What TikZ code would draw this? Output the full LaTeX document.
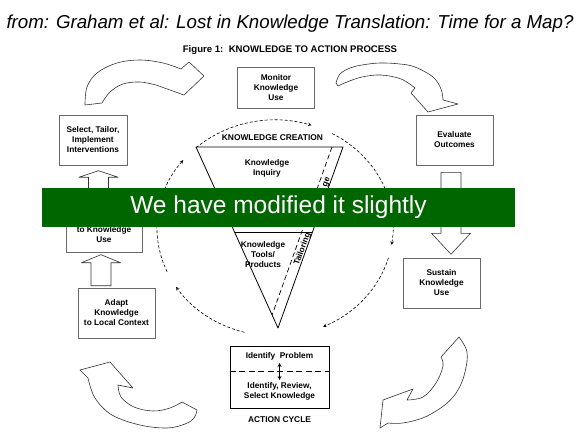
\documentclass[tikz,border=0pt]{standalone}
\usepackage{fontspec}
\setmainfont{Liberation Sans}
\usepackage{tikz}
\usetikzlibrary{arrows,positioning,calc}
\definecolor{kagreen}{RGB}{0,102,0}
\definecolor{kagray}{RGB}{105,105,105}
\tikzstyle{stepbox} = [rectangle, minimum width=77pt, minimum height=50pt, align=center, inner sep=0pt, draw=kagray, line width=0.6pt, fill=white, font=\bfseries\fontsize{8.3}{10}\selectfont]
\tikzstyle{actbox} = [rectangle, minimum width=99pt, minimum height=62pt, draw=black, line width=0.9pt, fill=white]
\tikzstyle{boxtext} = [align=center, inner sep=0pt, font=\bfseries\fontsize{8.3}{10}\selectfont]
\tikzstyle{lbl} = [inner sep=0pt, font=\bfseries\fontsize{8.4}{10}\selectfont]
\tikzstyle{funnel} = [draw=black, line width=0.8pt, line join=round]
\tikzstyle{tailorline} = [draw=black, line width=0.7pt, dash pattern=on 5pt off 3pt]
\tikzstyle{tailortext} = [inner sep=0pt, rotate=70, font=\bfseries\fontsize{8.3}{10}\selectfont]
\tikzstyle{cyclearc} = [line width=0.6pt, dash pattern=on 3pt off 2pt, ->, >=stealth]
\tikzstyle{blockline} = [draw=black!80, line width=0.6pt, fill=white, line join=round]
\tikzstyle{bentarrow} = [draw=black!80, line width=0.6pt, fill=white, line join=round]
\tikzstyle{banner} = [rectangle, fill=kagreen, text=white, minimum width=473pt, minimum height=39pt, inner sep=0pt, font=\fontsize{24.5}{28}\selectfont]
\tikzset{pics/hollowup/.style 2 args={code={
  \draw[blockline] (-10,0) -- (-10,{-#1+#2}) -- (-19.5,{-#1+#2}) -- (0,-#1)
    -- (19.5,{-#1+#2}) -- (10,{-#1+#2}) -- (10,0) -- cycle;}}}

\begin{document}
\begin{tikzpicture}[x=1pt,y=-1pt]
\useasboundingbox (0,0) rectangle (580,433);

% Heading
\node[font=\itshape\fontsize{18.7}{22}\selectfont] (title) at (290,24) {from: Graham et al: Lost in Knowledge Translation: Time for a Map?};
\node[lbl, font=\bfseries\fontsize{9.6}{11}\selectfont] (figure) at (290,50) {Figure 1:\ \ KNOWLEDGE TO ACTION PROCESS};

% Dashed cycle round the funnel
\coordinate (C) at (275,228);
\draw[cyclearc] ($(C)+(228:118 and 108)$) arc[start angle=228, end angle=288, x radius=118, y radius=108];
\draw[cyclearc] ($(C)+(299:118 and 108)$) arc[start angle=299, end angle=369, x radius=118, y radius=108];
\draw[cyclearc] ($(C)+(16:118 and 108)$) arc[start angle=16, end angle=66, x radius=118, y radius=108];
\draw[cyclearc] ($(C)+(105:118 and 108)$) arc[start angle=105, end angle=147, x radius=118, y radius=108];
\draw[cyclearc] ($(C)+(156:118 and 108)$) arc[start angle=156, end angle=219, x radius=118, y radius=108];

% Knowledge creation funnel
\coordinate (fl) at (196,147);
\coordinate (fr) at (343,147);
\coordinate (ft) at (278,328);
\draw[funnel, fill=white] (fl) -- (fr) -- (ft) -- cycle;
\draw[funnel] ($(fl)!0.47!(ft)$) -- ($(fr)!0.47!(ft)$);
\draw[tailorline] ($(fl)!0.925!(fr)$) -- ($(fl)!0.928!(ft)$);
\node[lbl, above=6pt] (creation) at ($(fl)!0.52!(fr)$) {KNOWLEDGE CREATION};
\node[boxtext] (inquiry) at (267,168) {Knowledge\\Inquiry};
\node[boxtext] (tools) at (263,255) {Knowledge\\Tools/\\Products};
\node[tailortext] (tailoring) at (302.5,249) {Tailoring};
\node[tailortext] (tailorend) at (327,182) {ge};

% Action cycle
\node[stepbox, minimum height=41pt] (monitor) at (276,87.5) {Monitor\\Knowledge\\Use};
\node[stepbox] (evaluate) at (454.5,140) {Evaluate\\Outcomes};
\node[stepbox, minimum width=68pt] (select) at (93,140) {Select, Tailor,\\Implement\\Interventions};
\node[stepbox, minimum width=76pt] (assess) at (104,227) {};
\node[boxtext] (assesstext) at ($(assess.south)+(0,-18)$) {to Knowledge\\Use};
\node[stepbox] (adapt) at (116.5,313) {Adapt\\Knowledge\\to Local Context};
\node[stepbox] (sustain) at (441.5,283) {Sustain\\Knowledge\\Use};

\node[actbox] (identify) at (279.5,377) {};
\node[boxtext] (problem) at ($(identify.north)+(0,11)$) {Identify\ \ Problem};
\node[boxtext] (review) at ($(identify.south)+(0,-17.5)$) {Identify, Review,\\Select Knowledge};
\coordinate (split) at ($(identify.center)+(0,-6)$);
\draw[line width=0.9pt, dash pattern=on 6pt off 3.5pt] (split -| identify.west) -- (split -| identify.east);
\draw[<->, >=stealth, line width=0.8pt] ($(identify.center)+(0,-14)$) -- ($(identify.center)+(0,3)$);
\node[lbl, below=8pt of identify] (actioncycle) {ACTION CYCLE};

% Straight block arrows
\pic at ($(adapt.north)+(-15.5,-2)$) {hollowup={31}{8}};
\pic at ($(assess.north)+(-5.5,0)$) {hollowup={31}{6.5}};
\pic[rotate=180] at ($(evaluate.south)+(-3.5,7)$) {hollowup={82}{21}};

% Curved block arrows
\draw[bentarrow] plot[smooth, tension=0.6] coordinates {(85,105) (87,87) (97,73) (117,63) (140,60) (163,63) (181,69)}
  -- (189,62) -- (204,76) -- (184,95)
  -- plot[smooth, tension=0.6] coordinates {(156,85) (140,82) (123,84) (110,92) (102,103)} -- cycle;
\draw[bentarrow] plot[smooth, tension=0.6] coordinates {(336,83) (340,74) (350,68) (362,65) (380,63) (400,64) (415,67) (433,77) (441,89) (443,100)}
  -- (458,104) -- (428,112) -- (411,93)
  -- plot[smooth, tension=0.6] coordinates {(415,88) (401,79) (381,75) (362,77) (347,82) (338,86)} -- cycle;
\draw[bentarrow] plot[smooth, tension=0.6] coordinates {(459,337) (467,352) (465,372) (458,390) (446,404) (425,417) (403,423) (388,423)}
  -- (380,428) -- (383,400) -- (413,389)
  -- plot[smooth, tension=0.6] coordinates {(407,400) (423,397) (436,383) (443,366) (441,357)} -- cycle;
\draw[bentarrow] plot[smooth, tension=0.6] coordinates {(197,410) (194,418) (185,424) (167,428) (140,425) (112,415) (95,398) (88,378)}
  -- (80,370) -- (110,362) -- (133,388)
  -- plot[smooth, tension=0.6] coordinates {(118,385) (121,397) (134,407) (153,411) (170,408) (182,402)} -- cycle;

% Overlay
\node[banner] (note) at (278.5,207.5) {We have modified it slightly};
\end{tikzpicture}
\end{document}
